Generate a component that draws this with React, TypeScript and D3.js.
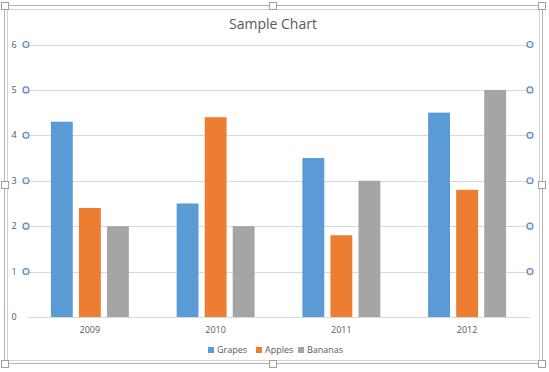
import { useEffect, useRef } from 'react';
import * as d3 from 'd3';

const years = ['2009', '2010', '2011', '2012'];
const grapes = [4.3, 2.5, 3.5, 4.5];
const apples = [2.4, 4.4, 1.8, 2.8];
const bananas = [2, 2, 3, 5];
const yTicks = [0, 1, 2, 3, 4, 5, 6];

const series = [
  { name: 'Grapes', values: grapes, color: '#5B9BD5' },
  { name: 'Apples', values: apples, color: '#ED7D31' },
  { name: 'Bananas', values: bananas, color: '#A5A5A5' },
];

export default function App() {
  const svgRef = useRef<SVGSVGElement>(null);

  useEffect(() => {
    if (!svgRef.current) return;
    const W = 549;
    const H = 372;
    const font = 'Open Sans, sans-serif';
    const textColor = '#595959';

    d3.select(svgRef.current).selectAll('*').remove();
    const svg = d3.select(svgRef.current).attr('width', W).attr('height', H);

    svg.append('rect').attr('width', W).attr('height', H).attr('fill', '#fff');

    // selection frame (double line) and handles
    svg.append('rect')
      .attr('x', 4.5).attr('y', 5.5).attr('width', 538).attr('height', 358)
      .attr('fill', 'none').attr('stroke', '#b4b4b4');
    svg.append('rect')
      .attr('x', 7.5).attr('y', 9.5).attr('width', 532).attr('height', 351)
      .attr('fill', 'none').attr('stroke', '#d4d4d4');
    const handles = [
      [5, 6], [273, 6], [542, 6],
      [5, 185], [542, 185],
      [5, 364], [273, 364], [542, 364],
    ];
    svg.append('g')
      .selectAll('rect')
      .data(handles)
      .join('rect')
      .attr('x', d => d[0] - 3.5)
      .attr('y', d => d[1] - 3.5)
      .attr('width', 7)
      .attr('height', 7)
      .attr('fill', '#fff')
      .attr('stroke', '#a0a0a0');

    // title
    svg.append('text')
      .attr('x', 273).attr('y', 29)
      .attr('text-anchor', 'middle')
      .attr('font-family', font)
      .attr('font-size', 14)
      .attr('fill', textColor)
      .text('Sample Chart');

    const x = d3.scaleBand<string>()
      .domain(years)
      .range([27, 530])
      .paddingInner(0.38)
      .paddingOuter(0.19);

    const y = d3.scaleLinear().domain([0, 6]).range([317, 44.5]);

    // gridlines
    svg.append('g')
      .selectAll('line')
      .data(yTicks)
      .join('line')
      .attr('x1', 27).attr('x2', 530)
      .attr('y1', d => Math.round(y(d)) + 0.5)
      .attr('y2', d => Math.round(y(d)) + 0.5)
      .attr('stroke', '#d9d9d9');

    // y labels
    svg.append('g')
      .selectAll('text')
      .data(yTicks)
      .join('text')
      .attr('x', 14)
      .attr('y', d => y(d) + 3)
      .attr('text-anchor', 'middle')
      .attr('font-family', font)
      .attr('font-size', 9)
      .attr('fill', textColor)
      .text(d => d);

    // bars
    const inner = d3.scaleBand<string>()
      .domain(series.map(s => s.name))
      .range([0, x.bandwidth()])
      .paddingInner(0.22);

    series.forEach(s => {
      svg.append('g')
        .selectAll('rect')
        .data(s.values)
        .join('rect')
        .attr('x', (d, i) => (x(years[i]) as number) + (inner(s.name) as number))
        .attr('width', inner.bandwidth())
        .attr('y', d => y(d))
        .attr('height', d => y(0) - y(d))
        .attr('fill', s.color);
    });

    // selection circles on value axis
    const circ = yTicks.filter(t => t > 0);
    [26, 530].forEach(cx => {
      svg.append('g')
        .selectAll('circle')
        .data(circ)
        .join('circle')
        .attr('cx', cx)
        .attr('cy', d => y(d))
        .attr('r', 3)
        .attr('fill', '#e3f0fb')
        .attr('stroke', '#5f8bb8')
        .attr('stroke-width', 1.2);
    });

    // category labels
    svg.append('g')
      .selectAll('text')
      .data(years)
      .join('text')
      .attr('x', d => (x(d) as number) + x.bandwidth() / 2)
      .attr('y', 333)
      .attr('text-anchor', 'middle')
      .attr('font-family', font)
      .attr('font-size', 9)
      .attr('fill', textColor)
      .text(d => d);

    // legend
    const legendX = [208, 256, 298];
    const legend = svg.append('g')
      .selectAll('g')
      .data(series)
      .join('g')
      .attr('transform', (d, i) => `translate(${legendX[i]},350)`);
    legend.append('rect')
      .attr('x', 0).attr('y', -3)
      .attr('width', 6).attr('height', 6)
      .attr('fill', d => d.color);
    legend.append('text')
      .attr('x', 9).attr('y', 3)
      .attr('font-family', font)
      .attr('font-size', 9)
      .attr('fill', textColor)
      .text(d => d.name);
  }, []);

  return (
    <div style={{ position: 'absolute', left: 0, top: 0 }}>
      <svg ref={svgRef} style={{ display: 'block' }} />
    </div>
  );
}
